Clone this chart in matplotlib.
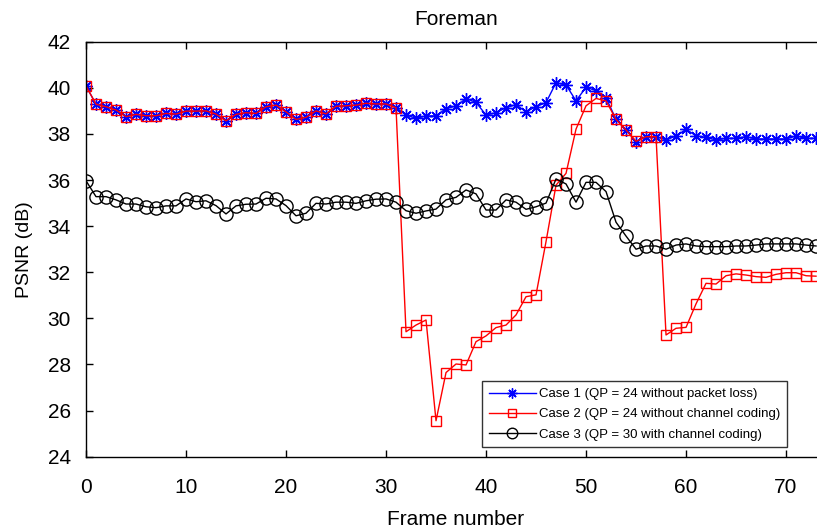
import matplotlib
matplotlib.use("Agg")
import matplotlib.pyplot as plt
import numpy as np

plt.rcParams['font.family'] = ['Liberation Sans', 'DejaVu Sans']

frames = list(range(0, 74))

case1 = [40.08, 39.29, 39.18, 39.04, 38.75, 38.85, 38.79, 38.79, 38.89, 38.86,
         38.99, 38.99, 39.00, 38.86, 38.57, 38.85, 38.92, 38.89, 39.18, 39.25,
         38.96, 38.63, 38.72, 39.00, 38.87, 39.20, 39.22, 39.25, 39.33, 39.30,
         39.30, 39.14, 38.82, 38.68, 38.78, 38.78, 39.10, 39.21, 39.53, 39.37,
         38.82, 38.92, 39.14, 39.27, 38.96, 39.18, 39.36, 40.22, 40.12, 39.44,
         40.02, 39.88, 39.57, 38.63, 38.17, 37.66, 37.88, 37.88, 37.74, 37.91,
         38.20, 37.92, 37.85, 37.74, 37.81, 37.81, 37.88, 37.78, 37.78, 37.78,
         37.78, 37.91, 37.81, 37.81]

case2 = [40.08, 39.29, 39.18, 39.04, 38.75, 38.85, 38.79, 38.79, 38.89, 38.86,
         38.99, 38.99, 39.00, 38.86, 38.57, 38.85, 38.92, 38.89, 39.18, 39.25,
         38.96, 38.63, 38.72, 39.00, 38.87, 39.20, 39.22, 39.25, 39.33, 39.30,
         39.30, 39.14, 29.42, 29.71, 29.93, 25.56, 27.65, 28.02, 27.98, 28.99,
         29.24, 29.60, 29.71, 30.15, 30.94, 31.02, 33.33, 35.78, 36.29, 38.21,
         39.22, 39.54, 39.43, 38.63, 38.17, 37.68, 37.88, 37.88, 29.28, 29.57,
         29.61, 30.63, 31.52, 31.49, 31.85, 31.93, 31.88, 31.81, 31.78, 31.91,
         31.98, 31.98, 31.85, 31.83]

case3 = [35.97, 35.28, 35.28, 35.14, 34.96, 34.96, 34.84, 34.80, 34.88, 34.88,
         35.18, 35.06, 35.10, 34.89, 34.53, 34.88, 34.95, 34.96, 35.21, 35.18,
         34.89, 34.45, 34.56, 34.99, 34.96, 35.04, 35.04, 34.99, 35.10, 35.17,
         35.18, 35.04, 34.67, 34.56, 34.66, 34.74, 35.14, 35.25, 35.57, 35.40,
         34.70, 34.70, 35.14, 35.04, 34.73, 34.84, 35.00, 36.05, 35.83, 35.04,
         35.90, 35.90, 35.50, 34.17, 33.57, 33.00, 33.14, 33.14, 33.00, 33.18,
         33.23, 33.14, 33.11, 33.11, 33.11, 33.14, 33.14, 33.18, 33.23, 33.23,
         33.23, 33.23, 33.18, 33.14]

labels = ["Case 1 (QP = 24 without packet loss)",
          "Case 2 (QP = 24 without channel coding)",
          "Case 3 (QP = 30 with channel coding)"]

fig = plt.figure(figsize=(8.17, 5.30), dpi=100)
ax = fig.add_axes([0.10526, 0.1383, 0.9058, 0.783])

ax.plot(frames, case1, color='#0000ff', lw=1.0, marker=(8, 2, 0), ms=9,
        markeredgewidth=1.0, markeredgecolor='#0000ff', label=labels[0])
ax.plot(frames, case2, color='#ff0000', lw=1.0, marker='s', ms=7.5,
        markerfacecolor='none', markeredgecolor='#ff0000', label=labels[1])
ax.plot(frames, case3, color='#000000', lw=1.0, marker='o', ms=9.5,
        markerfacecolor='none', markeredgecolor='#000000', label=labels[2])

ax.set_xlim(0, 74)
ax.set_ylim(24, 42)
ax.set_xticks(range(0, 80, 10))
ax.set_yticks(range(24, 43, 2))
ax.tick_params(direction='in', top=True, right=True, labelsize=15, length=5, width=1)
ax.tick_params(axis='x', pad=15)
ax.tick_params(axis='y', pad=11)
for s in ax.spines.values():
    s.set_linewidth(1.0)

ax.set_title("Foreman", fontsize=15, pad=12)
ax.set_xlabel("Frame number", fontsize=15, labelpad=10)
ax.set_ylabel("PSNR (dB)", fontsize=14, labelpad=10)

leg = ax.legend(loc='lower left', bbox_to_anchor=(0.535, 0.023), borderaxespad=0,
                fontsize=9.5, frameon=True, fancybox=False, edgecolor='black',
                handlelength=3.6, borderpad=0.5, labelspacing=0.6,
                handletextpad=0.2, markerscale=0.8)
leg.get_frame().set_linewidth(1.0)

fig.savefig("out.png", dpi=100)
